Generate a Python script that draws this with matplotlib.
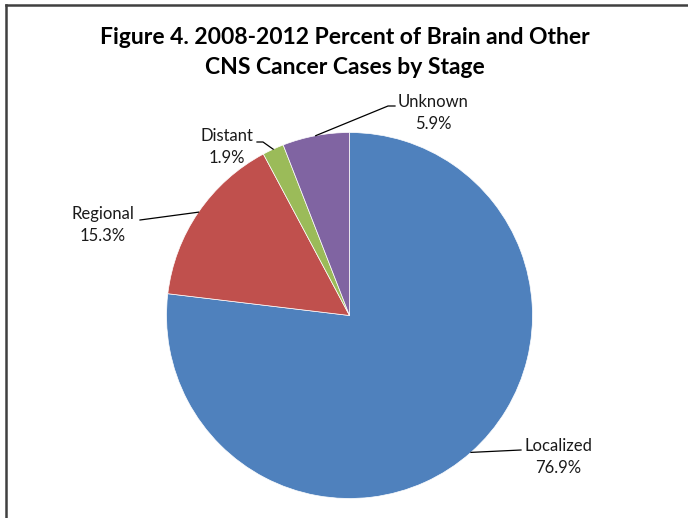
import numpy as np
import matplotlib
matplotlib.use("Agg")
import matplotlib.pyplot as plt
from matplotlib.lines import Line2D

# ------------------------------
# DATA
# ------------------------------
stages = ["Localized", "Regional", "Distant", "Unknown"]
percents = [76.9, 15.3, 1.9, 5.9]
colors = ["#4F81BD", "#C0504D", "#9BBB59", "#8064A2"]

title_lines = ["Figure 4. 2008-2012 Percent of Brain and Other",
               "CNS Cancer Cases by Stage"]

# ------------------------------
# LAYOUT (pixels)
# ------------------------------
W, H = 688, 518
cx, cy, R = 349.5, 315.5, 183.0

def px(x, y):
    # pixel position -> pie data units
    return (x - cx) / R, (cy - y) / R

# text centre and leader line points (pixels) per label
label_pos = [(558, 457), (103, 225), (227, 147), (433, 113)]
leader_pts = [
    [(521, 450)],
    [(140, 220)],
    [(263, 142), (257, 142)],
    [(388, 106), (395, 106)],
]

plt.rcParams['font.family'] = ['Lato', 'DejaVu Sans']

fig = plt.figure(figsize=(W / 100, H / 100), dpi=100)
ax = fig.add_axes([(cx - R) / W, (H - cy - R) / H, 2 * R / W, 2 * R / H])

wedges, _ = ax.pie(percents, colors=colors, startangle=90, counterclock=False,
                   radius=1, wedgeprops=dict(edgecolor='white', linewidth=0.5))
# pie() resets the limits to +-1.25, put them back
ax.set_xlim(-1, 1)
ax.set_ylim(-1, 1)
ax.set_aspect('equal')
ax.axis('off')

# --- labels with leader lines ---
for w, name, val, pos, pts in zip(wedges, stages, percents, label_pos, leader_pts):
    mid = np.deg2rad((w.theta1 + w.theta2) / 2)
    ex, ey = np.cos(mid), np.sin(mid)
    xs = [ex] + [px(*p)[0] for p in pts]
    ys = [ey] + [px(*p)[1] for p in pts]
    ax.add_line(Line2D(xs, ys, color='black', linewidth=0.9, clip_on=False))
    tx, ty = px(*pos)
    ax.text(tx, ty, f"{name}\n{val:.1f}%", ha='center', va='center',
            fontsize=12, color='#1a1a1a', linespacing=1.42, clip_on=False)

# --- title ---
fig.text(345 / W, 1 - 37 / H, title_lines[0], ha='center', va='center',
         fontsize=16.5, fontweight='bold', color='black')
fig.text(345 / W, 1 - 68 / H, title_lines[1], ha='center', va='center',
         fontsize=16.5, fontweight='bold', color='black')

# --- chart border (only top and left visible in the crop) ---
fig.add_artist(Line2D([6 / W, 1], [1 - 5 / H, 1 - 5 / H], color='#404040', linewidth=1.8))
fig.add_artist(Line2D([6 / W, 6 / W], [0, 1 - 5 / H], color='#404040', linewidth=1.8))

fig.savefig("out.png", dpi=100)
